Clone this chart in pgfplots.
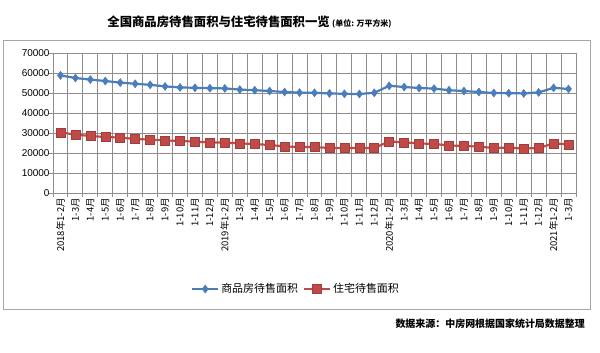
\documentclass[border=0pt]{standalone}
\usepackage{pgfplots}
\pgfplotsset{compat=1.18}
\usepackage{fontspec}
\setmainfont{Liberation Sans}
\newfontfamily\cjk{Noto Sans CJK SC}
\definecolor{sblue}{HTML}{4A7EBB}
\definecolor{sred}{HTML}{BE4B48}
\definecolor{sredd}{HTML}{A33C3A}
\definecolor{gridc}{HTML}{8E8E8E}
\pgfplotstableread{
x blue red
1 58800 30300
3 57500 29200
5 56700 28500
7 56000 28000
9 55200 27700
11 54600 27000
13 54100 26700
15 53300 26300
17 52800 26000
19 52600 25700
21 52400 25300
23 52300 25200
25 51700 24800
27 51400 24500
29 51000 24000
31 50500 23300
33 50200 23000
35 50100 23000
37 49800 22500
39 49600 22500
41 49500 22500
43 50100 22500
45 53600 25800
47 53000 25300
49 52500 24800
51 52200 24500
53 51400 23800
55 51000 23500
57 50500 23200
59 50000 22500
61 49900 22700
63 49800 22200
65 50300 22500
67 52600 24800
69 52000 24300
}\datatable
\begin{document}
\begin{tikzpicture}[x=1bp,y=1bp]
\useasboundingbox (0,0) rectangle (600,352);
\fill[white] (0,0) rectangle (600,352);
\draw[color=black!35, line width=0.8bp] (3,43) rectangle (590,312);
\node[font=\cjk\bfseries\fontsize{12.4}{14}\selectfont, anchor=base east, inner sep=0] at (330,326) {全国商品房待售面积与住宅待售面积一览};
\node[font=\cjk\bfseries\fontsize{8}{9}\selectfont, anchor=base west, inner sep=0] at (332,326) {(单位: 万平方米)};
\node[font=\cjk\bfseries\fontsize{10}{12}\selectfont, anchor=base east, inner sep=0] at (585,25) {数据来源：中房网根据国家统计局数据整理};
\foreach \k in {0,1,...,35} {
  \draw[color=gridc, line width=1bp] ({53+\k*14.942857},155) -- ({53+\k*14.942857},299);
}
\begin{axis}[
  at={(53bp,159bp)}, anchor=south west,
  scale only axis, width=523bp, height=140bp,
  xmin=0, xmax=70, ymin=0, ymax=70000,
  ytick={0,10000,20000,30000,40000,50000,60000,70000},
  minor ytick={0,10000,20000,30000,40000,50000,60000,70000},
  scaled y ticks=false,
  /pgf/number format/.cd, 1000 sep={}, assume math mode=true,
  /pgfplots/.cd,
  yticklabel style={font=\fontsize{10}{12}\selectfont, color=black},
  xtick={1,3,5,7,9,11,13,15,17,19,21,23,25,27,29,31,33,35,37,39,41,43,45,47,49,51,53,55,57,59,61,63,65,67,69},
  xticklabels={2018年1-2月,1-3月,1-4月,1-5月,1-6月,1-7月,1-8月,1-9月,1-10月,1-11月,1-12月,2019年1-2月,1-3月,1-4月,1-5月,1-6月,1-7月,1-8月,1-9月,1-10月,1-11月,1-12月,2020年1-2月,1-3月,1-4月,1-5月,1-6月,1-7月,1-8月,1-9月,1-10月,1-11月,1-12月,2021年1-2月,1-3月},
  xticklabel style={font=\cjk\fontsize{9.5}{11}\selectfont, rotate=90, anchor=east, color=black, inner xsep=5bp, inner ysep=1bp},
  tick align=outside,
  major tick length=0pt,
  minor tick length=4bp,
  ymajorgrids=true, xmajorgrids=false,
  major grid style={color=gridc, line width=1bp},
  axis x line*=bottom, axis y line*=left,
  axis line style={color=gridc, line width=1bp},
  tick style={color=gridc, line width=1bp},
  clip=false,
  legend columns=2,
  legend style={at={(0.4646,-0.686)}, anchor=center, draw=none, fill=none,
    font=\cjk\fontsize{11}{13}\selectfont, /tikz/every even column/.append style={column sep=3bp}},
  legend image code/.code={
    \draw[#1, mark repeat=2, mark phase=2] plot coordinates {(0bp,0bp) (13bp,0bp) (26bp,0bp)};},
]
\addplot[color=sblue, line width=2.2bp, mark=diamond*, mark size=4bp, mark options={fill=sblue, draw=sblue, line width=0.5bp}] table[x=x, y=blue] {\datatable};
\addlegendentry{商品房待售面积}
\addplot[color=sred, line width=2.2bp, mark=square*, mark size=4.5bp, mark options={fill=sred, draw=sredd, line width=0.6bp}] table[x=x, y=red] {\datatable};
\addlegendentry{住宅待售面积}
\end{axis}
\end{tikzpicture}
\end{document}
